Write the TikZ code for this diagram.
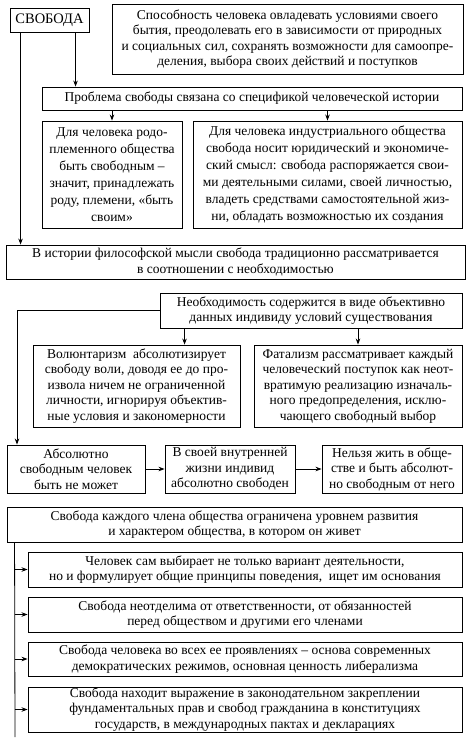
\documentclass[tikz,border=0pt]{standalone}
\usepackage{fontspec}
\setmainfont{Liberation Serif}
\usetikzlibrary{arrows.meta,calc}
\begin{document}
\begin{tikzpicture}[x=1pt,y=-1pt,
  box/.style={draw, line width=0.9pt, align=center, inner sep=0pt,
    font=\fontsize{13.5}{15.5}\selectfont},
  tall/.style={font=\fontsize{13.5}{17}\selectfont},
  arr/.style={line width=0.8pt, -{Stealth[length=6pt,width=4.5pt]}},
  ln/.style={line width=0.8pt}]
\useasboundingbox (0,0) rectangle (470,741);
\node[box, minimum width=79pt, minimum height=24pt, font=\fontsize{14.5}{16}\selectfont] (svoboda) at (49.5,20) {СВОБОДА};
\node[box, minimum width=351pt, minimum height=70pt] (def) at (287.5,39)
 {Способность человека овладевать условиями своего\\ бытия, преодолевать его в зависимости от природных\\ и социальных сил, сохранять возможности для самоопре-\\деления, выбора своих действий и поступков};
\node[box, minimum width=420pt, minimum height=23pt] (problem) at (252,98.5)
 {Проблема свободы связана со спецификой человеческой истории};
\node[box, tall, minimum width=140pt, minimum height=107pt] (rodo) at (112,174.5)
 {Для человека родо-\\племенного общества\\быть свободным –\\значит, принадлежать\\роду, племени, «быть\\своим»};
\node[box, tall, minimum width=269pt, minimum height=107pt] (ind) at (327.5,174.5)
 {Для человека индустриального общества\\свобода носит юридический и экономиче-\\ский смысл: свобода распоряжается свои-\\ми деятельными силами, своей личностью,\\владеть средствами самостоятельной жиз-\\ни, обладать возможностью их создания};
\node[box, minimum width=459pt, minimum height=34pt] (history) at (235.5,262)
 {В истории философской мысли свобода традиционно рассматривается\\в соотношении с необходимостью};
\node[box, minimum width=302pt, minimum height=35pt] (necess) at (311,310.5)
 {Необходимость содержится в виде объективно\\данных индивиду условий существования};
\node[box, minimum width=207pt, minimum height=82pt] (volunt) at (136.5,386)
 {Волюнтаризм\ \ абсолютизирует\\свободу воли, доводя ее до про-\\извола ничем не ограниченной\\личности, игнорируя объектив-\\ные условия и закономерности};
\node[box, minimum width=208pt, minimum height=82pt] (fatal) at (358,386)
 {Фатализм рассматривает каждый\\человеческий поступок как неот-\\вратимую реализацию изначаль-\\ного предопределения, исклю-\\чающего свободный выбор};
\node[box, minimum width=138pt, minimum height=48pt] (absol) at (76,469)
 {Абсолютно\\свободным человек\\быть не может};
\node[box, minimum width=130pt, minimum height=48pt] (inner) at (230,469)
 {В своей внутренней\\жизни индивид\\абсолютно свободен};
\node[box, minimum width=140pt, minimum height=48pt] (cannot) at (392,469)
 {Нельзя жить в обще-\\стве и быть абсолют-\\но свободным от него};
\node[box, minimum width=455pt, minimum height=35pt] (society) at (234.5,524.5)
 {Свобода каждого члена общества ограничена уровнем развития\\и характером общества, в котором он живет};
\node[box, minimum width=434pt, minimum height=35pt] (ba) at (245,569.5)
 {Человек сам выбирает не только вариант деятельности,\\но и формулирует общие принципы поведения,\ \ ищет им основания};
\node[box, minimum width=434pt, minimum height=35pt] (bb) at (245,614.5)
 {Свобода неотделима от ответственности, от обязанностей\\перед обществом и другими его членами};
\node[box, minimum width=434pt, minimum height=34pt] (bc) at (245,659)
 {Свобода человека во всех ее проявлениях – основа современных\\демократических режимов, основная ценность либерализма};
\node[box, minimum width=434pt, minimum height=45pt] (bd) at (245,709.5)
 {Свобода находит выражение в законодательном закреплении\\фундаментальных прав и свобод гражданина в конституциях\\государств, в международных пактах и декларациях};
% connectors
\coordinate (s1) at ($(svoboda.south west)+(66,0)$);
\draw[arr] (s1) -- (s1 |- problem.north);
\coordinate (s2) at ($(svoboda.south west)+(11,0)$);
\draw[arr] (s2) -- (s2 |- history.north);
\draw[arr] (problem.south -| rodo.north) -- (rodo.north);
\draw[arr] (problem.south -| ind.north) -- (ind.north);
\coordinate (n1) at ($(necess.south west)+(25,0)$);
\draw[arr] (n1) -- (n1 |- volunt.north);
\draw[arr] (necess.south -| fatal.north) -- (fatal.north);
\coordinate (n2) at (17,310.5);
\draw[ln] (necess.west) -- (n2);
\draw[arr] (n2) -- (n2 |- absol.north);
\draw[arr] (absol.east) -- (inner.west);
\draw[arr] (inner.east) -- (cannot.west);
\coordinate (t1) at ($(society.south west)+(8,0)$);
\coordinate (t2) at (15,737);
\draw[ln] (t1) -- (t2);
\draw[arr] (t1 |- ba.west) -- (ba.west);
\draw[arr] (t1 |- bb.west) -- (bb.west);
\draw[arr] (t1 |- bc.west) -- (bc.west);
\draw[arr] (t1 |- bd.west) -- (bd.west);
\end{tikzpicture}
\end{document}
